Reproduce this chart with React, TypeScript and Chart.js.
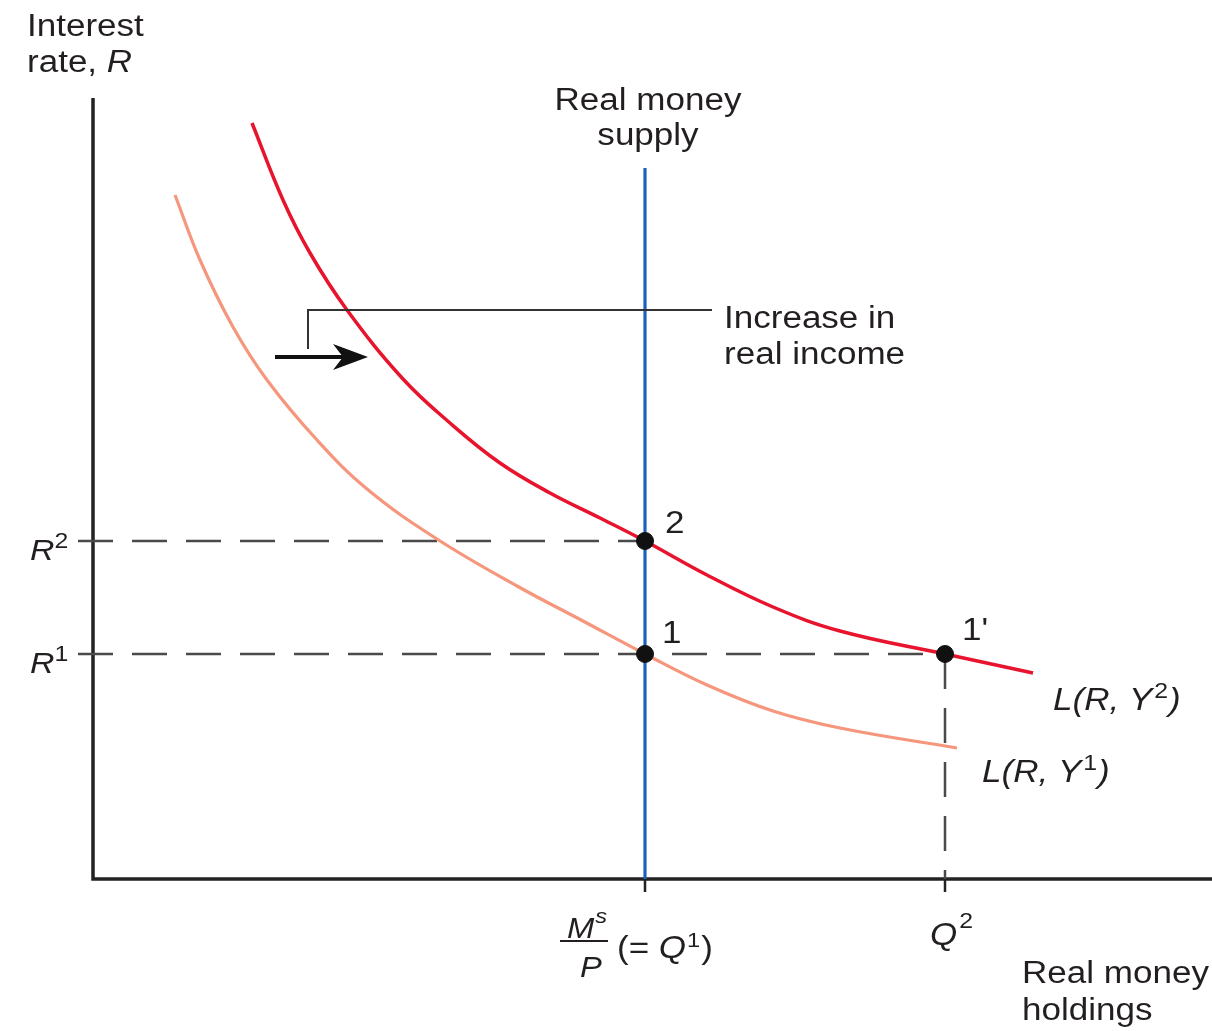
import React, { useEffect, useRef } from "react";
import { Chart, registerables } from "chart.js";

Chart.register(...registerables);

// ---- Data (real money holdings x, interest rate y) ----
const demandY1Q = [0.82, 1.07, 1.4, 1.74, 2.24, 2.74, 3.44, 4.24, 4.9, 5.52, 6.14, 6.8, 7.47, 8.64];
const demandY1R = [6.84, 6.19, 5.52, 4.99, 4.39, 3.9, 3.4, 2.93, 2.58, 2.25, 1.94, 1.68, 1.51, 1.31];

const demandY2Q = [1.59, 1.9, 2.17, 2.54, 3.1, 3.57, 4.07, 4.57, 5.07, 5.52, 6.14, 6.8, 7.47, 8.52, 9.4];
const demandY2R = [7.56, 6.79, 6.26, 5.69, 5.0, 4.56, 4.16, 3.86, 3.61, 3.38, 3.04, 2.72, 2.48, 2.25, 2.06];

const Q1 = 5.52;
const Q2 = 8.52;
const R1 = 2.25;
const R2 = 3.38;
const supplyTop = 7.11;
const dashStart = -0.15;

const eqQ = [Q1, Q1, Q2];
const eqR = [R2, R1, R1];
const eqLabels = ["2", "1", "1'"];

const yTickBase = ["R", "R"];
const yTickSup = ["2", "1"];
const yTickVals = [R2, R1];

const xMax = 11.19;
const yMax = 7.79;

const FONT = '"Liberation Sans", Arial, Helvetica, sans-serif';
const TXT = "#231f20";
const HS = 1.13;

function txt(
  ctx: CanvasRenderingContext2D,
  s: string,
  x: number,
  y: number,
  o: { size?: number; italic?: boolean; align?: CanvasTextAlign } = {}
): number {
  const size = o.size ?? 31;
  ctx.save();
  ctx.font = `${o.italic ? "italic " : ""}${size}px ${FONT}`;
  ctx.fillStyle = TXT;
  ctx.textBaseline = "alphabetic";
  const w = ctx.measureText(s).width * HS;
  let x0 = x;
  if (o.align === "center") x0 = x - w / 2;
  else if (o.align === "right") x0 = x - w;
  ctx.translate(x0, y);
  ctx.scale(HS, 1);
  ctx.textAlign = "left";
  ctx.fillText(s, 0, 0);
  ctx.restore();
  return w;
}

const pts = (xs: number[], ys: number[]) => xs.map((x, i) => ({ x, y: ys[i] }));

const axesPlugin = {
  id: "axesPlugin",
  beforeDatasetsDraw(chart: any) {
    const ctx: CanvasRenderingContext2D = chart.ctx;
    const xs = chart.scales.x;
    const ys = chart.scales.y;
    const x0 = xs.getPixelForValue(0);
    const y0 = ys.getPixelForValue(0);
    ctx.save();
    ctx.strokeStyle = "#222";
    ctx.lineWidth = 3.5;
    ctx.lineCap = "butt";
    ctx.beginPath();
    ctx.moveTo(x0, ys.getPixelForValue(yMax) - 2);
    ctx.lineTo(x0, y0 + 1.75);
    ctx.moveTo(x0 - 1.75, y0);
    ctx.lineTo(xs.getPixelForValue(xMax), y0);
    ctx.stroke();
    // x ticks
    ctx.lineWidth = 2.5;
    ctx.beginPath();
    [Q1, Q2].forEach((q) => {
      const px = xs.getPixelForValue(q);
      ctx.moveTo(px, y0);
      ctx.lineTo(px, y0 + 13);
    });
    ctx.stroke();
    ctx.restore();
  },
  afterDraw(chart: any) {
    const ctx: CanvasRenderingContext2D = chart.ctx;
    const xs = chart.scales.x;
    const ys = chart.scales.y;

    // Axis titles
    txt(ctx, "Interest", 27, 36);
    const w = txt(ctx, "rate, ", 27, 72);
    txt(ctx, "R", 27 + w, 72, { italic: true });

    const sx = xs.getPixelForValue(Q1);
    txt(ctx, "Real money", sx + 3, 110, { align: "center" });
    txt(ctx, "supply", sx + 3, 145, { align: "center" });

    txt(ctx, "Real money", 1022, 983);
    txt(ctx, "holdings", 1022, 1020);

    // Y tick labels
    yTickVals.forEach((v, i) => {
      const py = ys.getPixelForValue(v);
      const wr = txt(ctx, yTickBase[i], 30, py + 19, { italic: true, size: 30 });
      txt(ctx, yTickSup[i], 30 + wr, py + 7, { size: 22 });
    });

    // X tick labels
    const y0 = ys.getPixelForValue(0);
    {
      const mx = xs.getPixelForValue(Q1) - 78;
      const wm = txt(ctx, "M", mx, y0 + 59, { italic: true, size: 29 });
      txt(ctx, "s", mx + wm + 1, y0 + 44, { italic: true, size: 21 });
      ctx.save();
      ctx.strokeStyle = TXT;
      ctx.lineWidth = 2;
      ctx.beginPath();
      ctx.moveTo(mx - 7, y0 + 62);
      ctx.lineTo(mx + 41, y0 + 62);
      ctx.stroke();
      ctx.restore();
      txt(ctx, "P", mx + 13, y0 + 98, { italic: true, size: 29 });
      let cx = mx + 50;
      cx += txt(ctx, "(= ", cx, y0 + 79);
      cx += txt(ctx, "Q", cx, y0 + 79, { italic: true });
      cx += txt(ctx, "1", cx + 1, y0 + 68, { size: 21 }) + 2;
      txt(ctx, ")", cx, y0 + 79);
    }
    {
      const qx = xs.getPixelForValue(Q2) - 15;
      const wq = txt(ctx, "Q", qx, y0 + 66, { italic: true });
      txt(ctx, "2", qx + wq + 2, y0 + 49, { size: 22 });
    }

    // Equilibrium labels
    const offs = [
      [20, -8],
      [17, -11],
      [17, -14],
    ];
    eqQ.forEach((q, i) => {
      const px = xs.getPixelForValue(q);
      const py = ys.getPixelForValue(eqR[i]);
      txt(ctx, eqLabels[i], px + offs[i][0], py + offs[i][1]);
    });

    // Curve labels
    {
      let lx = 1053;
      lx += txt(ctx, "L(R, Y", lx, 710, { italic: true });
      lx += txt(ctx, "2", lx + 2, 698, { size: 22 }) + 3;
      txt(ctx, ")", lx, 710, { italic: true });
      let kx = 982;
      kx += txt(ctx, "L(R, Y", kx, 782, { italic: true });
      kx += txt(ctx, "1", kx + 2, 770, { size: 22 }) + 3;
      txt(ctx, ")", kx, 782, { italic: true });
    }

    // Annotation: Increase in real income
    txt(ctx, "Increase in", 724, 328);
    txt(ctx, "real income", 724, 364);
    ctx.save();
    ctx.strokeStyle = "#333";
    ctx.lineWidth = 2;
    ctx.beginPath();
    ctx.moveTo(308, 349);
    ctx.lineTo(308, 310);
    ctx.lineTo(712, 310);
    ctx.stroke();
    // arrow
    ctx.strokeStyle = "#111";
    ctx.fillStyle = "#111";
    ctx.lineWidth = 4;
    ctx.beginPath();
    ctx.moveTo(275, 357);
    ctx.lineTo(348, 357);
    ctx.stroke();
    ctx.beginPath();
    ctx.moveTo(368, 357);
    ctx.lineTo(333, 344);
    ctx.lineTo(343, 357);
    ctx.lineTo(333, 370);
    ctx.closePath();
    ctx.fill();
    ctx.restore();
  },
};

const dashStyle = {
  borderColor: "#4a4a4a",
  borderWidth: 2.5,
  borderDash: [35, 19],
  pointRadius: 0,
  showLine: true,
  clip: false as any,
};

export default function App() {
  const ref = useRef<HTMLCanvasElement>(null);
  useEffect(() => {
    if (!ref.current) return;
    const chart = new Chart(ref.current, {
      type: "scatter",
      data: {
        datasets: [
          {
            label: "Equilibria",
            data: pts(eqQ, eqR),
            pointRadius: 8.5,
            pointBackgroundColor: "#111",
            pointBorderColor: "#111",
            pointBorderWidth: 1,
            showLine: false,
            clip: false as any,
          },
          {
            label: "Real money supply",
            data: [
              { x: Q1, y: 0 },
              { x: Q1, y: supplyTop },
            ],
            borderColor: "#1d5fbf",
            borderWidth: 3.2,
            pointRadius: 0,
            showLine: true,
          },
          {
            label: "L(R, Y2)",
            data: pts(demandY2Q, demandY2R),
            borderColor: "#e8132c",
            borderWidth: 3.5,
            pointRadius: 0,
            showLine: true,
            tension: 0.4,
            clip: false as any,
          },
          {
            label: "L(R, Y1)",
            data: pts(demandY1Q, demandY1R),
            borderColor: "#f5967d",
            borderWidth: 3.2,
            pointRadius: 0,
            showLine: true,
            tension: 0.4,
            clip: false as any,
          },
          {
            label: "R2 guide",
            data: [
              { x: dashStart, y: R2 },
              { x: Q1, y: R2 },
            ],
            ...dashStyle,
          },
          {
            label: "R1 guide",
            data: [
              { x: dashStart, y: R1 },
              { x: Q2, y: R1 },
            ],
            ...dashStyle,
          },
          {
            label: "Q2 guide",
            data: [
              { x: Q2, y: R1 },
              { x: Q2, y: 0 },
            ],
            ...dashStyle,
          },
        ] as any,
      },
      options: {
        responsive: false,
        animation: false,
        events: [],
        layout: { autoPadding: false, padding: { left: 93, right: 0, top: 100, bottom: 152 } },
        plugins: { legend: { display: false }, tooltip: { enabled: false } },
        scales: {
          x: { type: "linear", min: 0, max: xMax, display: false },
          y: { type: "linear", min: 0, max: yMax, display: false },
        },
      },
      plugins: [axesPlugin],
    } as any);
    return () => chart.destroy();
  }, []);
  return (
    <div style={{ position: "absolute", left: 0, top: 0, width: 1212, height: 1031, background: "#fff" }}>
      <canvas ref={ref} width={1212} height={1031} style={{ display: "block", width: 1212, height: 1031 }} />
    </div>
  );
}
